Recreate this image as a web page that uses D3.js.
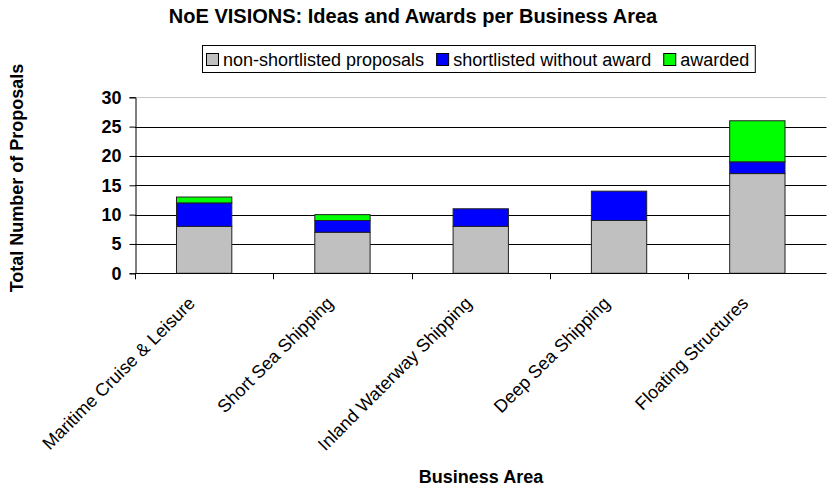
<!DOCTYPE html>
<html>
<head>
<meta charset="utf-8">
<script src="https://cdn.jsdelivr.net/npm/d3@7"></script>
<style>
    body { margin: 0; background: #fff; }
    text { font-family: Arial, "Liberation Sans", sans-serif; }
</style>
</head>
<body>
<div id="chart"></div>
<script>
const categories = ["Maritime Cruise & Leisure", "Short Sea Shipping", "Inland Waterway Shipping", "Deep Sea Shipping", "Floating Structures"];
const nonShortlisted = [8, 7, 8, 9, 17];
const shortlisted = [4, 2, 3, 5, 2];
const awarded = [1, 1, 0, 0, 7];
const seriesNames = ["non-shortlisted proposals", "shortlisted without award", "awarded"];
const seriesColors = ["#c0c0c0", "#0000ff", "#00ff00"];
const yTicks = [0, 5, 10, 15, 20, 25, 30];

const width = 827, height = 489;
const plot = { left: 135, right: 826.5, top: 97.3, bottom: 273.3 };

const svg = d3.select("#chart").append("svg")
    .attr("width", width)
    .attr("height", height);

// rows for the stack
const rows = categories.map((c, i) => ({
    cat: c,
    s0: nonShortlisted[i],
    s1: shortlisted[i],
    s2: awarded[i]
}));
const stack = d3.stack().keys(["s0", "s1", "s2"]);
const layers = stack(rows);

const x = d3.scaleBand()
    .domain(categories)
    .range([plot.left, plot.right])
    .paddingInner(0.6)
    .paddingOuter(0.3);

const y = d3.scaleLinear()
    .domain([0, 30])
    .range([plot.bottom, plot.top]);

// gridlines
svg.append("g")
    .selectAll("line")
    .data(yTicks.filter(d => d > 0))
    .enter().append("line")
    .attr("x1", plot.left)
    .attr("x2", plot.right)
    .attr("y1", d => Math.round(y(d)) + 0.5)
    .attr("y2", d => Math.round(y(d)) + 0.5)
    .attr("stroke", d => d === 30 ? "#c8c8c8" : "#000")
    .attr("stroke-width", 1);

// bars
svg.append("g")
    .selectAll("g")
    .data(layers)
    .enter().append("g")
    .attr("fill", (d, i) => seriesColors[i])
    .selectAll("rect")
    .data(d => d.filter(v => v[1] > v[0]))
    .enter().append("rect")
    .attr("x", d => x(d.data.cat))
    .attr("y", d => y(d[1]))
    .attr("width", x.bandwidth())
    .attr("height", d => y(d[0]) - y(d[1]))
    .attr("stroke", "#222")
    .attr("stroke-width", 1);

// y axis
const yAxis = svg.append("g")
    .attr("transform", `translate(${plot.left + 0.5},0)`)
    .call(d3.axisLeft(y).tickValues(yTicks).tickSize(6).tickPadding(8));
yAxis.select(".domain").attr("stroke", "#000");
yAxis.selectAll("text")
    .attr("font-size", 18)
    .attr("font-weight", "bold")
    .attr("fill", "#000");

// x axis with ticks between categories
svg.append("line")
    .attr("x1", plot.left).attr("x2", plot.right)
    .attr("y1", Math.round(plot.bottom) + 0.5).attr("y2", Math.round(plot.bottom) + 0.5)
    .attr("stroke", "#000");

const boundaries = d3.range(categories.length + 1).map(i => plot.left + i * x.step());
svg.append("g")
    .selectAll("line")
    .data(boundaries)
    .enter().append("line")
    .attr("x1", d => Math.round(d) + 0.5)
    .attr("x2", d => Math.round(d) + 0.5)
    .attr("y1", plot.bottom)
    .attr("y2", plot.bottom + 6)
    .attr("stroke", "#000");

svg.append("g")
    .selectAll("text")
    .data(categories)
    .enter().append("text")
    .attr("transform", d => `translate(${x(d) + x.bandwidth() / 2 - 8},${plot.bottom + 31}) rotate(-45)`)
    .attr("text-anchor", "end")
    .attr("font-size", 18)
    .attr("fill", "#000")
    .text(d => d);

// titles
svg.append("text")
    .attr("x", 413).attr("y", 23)
    .attr("text-anchor", "middle")
    .attr("font-size", 20)
    .attr("font-weight", "bold")
    .text("NoE VISIONS: Ideas and Awards per Business Area");

svg.append("text")
    .attr("x", 481).attr("y", 483)
    .attr("text-anchor", "middle")
    .attr("font-size", 18)
    .attr("font-weight", "bold")
    .text("Business Area");

svg.append("text")
    .attr("transform", "translate(23,178) rotate(-90)")
    .attr("text-anchor", "middle")
    .attr("font-size", 18)
    .attr("font-weight", "bold")
    .text("Total Number of Proposals");

// legend
const legend = svg.append("g");
const legendBox = legend.append("rect")
    .attr("x", 202.5).attr("y", 45.5)
    .attr("height", 27)
    .attr("fill", "#fff")
    .attr("stroke", "#000");

let lx = 206;
seriesNames.forEach((name, i) => {
    legend.append("rect")
        .attr("x", lx + 0.5).attr("y", 53.5)
        .attr("width", 12).attr("height", 12)
        .attr("fill", seriesColors[i])
        .attr("stroke", "#000");
    const t = legend.append("text")
        .attr("x", lx + 17).attr("y", 65.5)
        .attr("font-size", 18)
        .text(name);
    lx += 17 + t.node().getComputedTextLength() + 12;
});
legendBox.attr("width", lx - 12 + 6 - 202.5);
</script>
</body>
</html>
